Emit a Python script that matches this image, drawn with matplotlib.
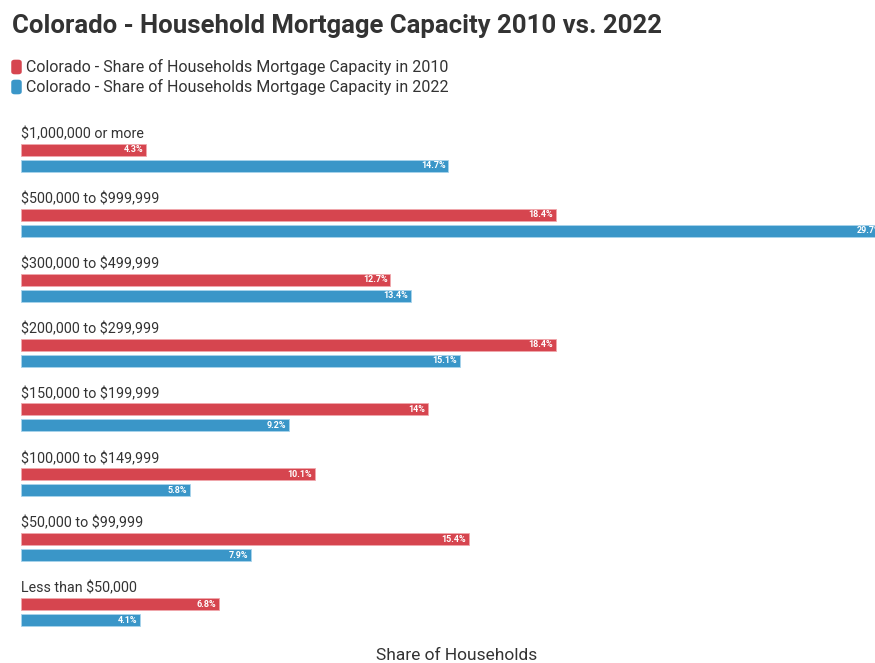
import numpy as np
import matplotlib.pyplot as plt
from matplotlib.patches import FancyBboxPatch

categories = ["$1,000,000 or more", "$500,000 to $999,999", "$300,000 to $499,999",
              "$200,000 to $299,999", "$150,000 to $199,999", "$100,000 to $149,999",
              "$50,000 to $99,999", "Less than $50,000"]
share_2010 = [4.3, 18.4, 12.7, 18.4, 14.0, 10.1, 15.4, 6.8]
share_2022 = [14.7, 29.7, 13.4, 15.1, 9.2, 5.8, 7.9, 4.1]
labels_2010 = ["4.3%", "18.4%", "12.7%", "18.4%", "14%", "10.1%", "15.4%", "6.8%"]
labels_2022 = ["14.7%", "29.7%", "13.4%", "15.1%", "9.2%", "5.8%", "7.9%", "4.1%"]

red = "#d6454f"
blue = "#3a96c8"
text_col = "#333333"

plt.rcParams["font.family"] = ["Roboto", "DejaVu Sans"]
plt.rcParams["text.parse_math"] = False

W, H = 875, 663
fig = plt.figure(figsize=(W / 100, H / 100), dpi=100, facecolor="white")
ax = fig.add_axes([21 / W, 18.5 / H, 1 - 21 / W, 0.7828])

y = np.arange(len(categories))
off = 0.123
bh = 0.185
ax.barh(y - off, share_2010, height=bh, color=red, edgecolor="#f0a8ad", linewidth=0.6)
ax.barh(y + off, share_2022, height=bh, color=blue, edgecolor="#a8d4ec", linewidth=0.6)

for i in range(len(categories)):
    ax.text(0, y[i] - off - 0.13, categories[i], ha="left", va="bottom",
            fontsize=10.3, color=text_col)
    ax.text(share_2010[i] - 0.1, y[i] - off, labels_2010[i], ha="right", va="center",
            fontsize=6.5, color="white", weight="bold", clip_on=True)
    ax.text(share_2022[i] - 0.1, y[i] + off, labels_2022[i], ha="right", va="center",
            fontsize=6.5, color="white", weight="bold", clip_on=True)

ax.set_xlim(0, (W - 21) / 29.08)
ax.set_ylim(7.5, -0.5)
ax.axis("off")

fig.text(12 / W, 1 - 26 / H, "Colorado - Household Mortgage Capacity 2010 vs. 2022",
         ha="left", va="center", fontsize=18.5, weight="bold", color=text_col)

legend_items = [("Colorado - Share of Households Mortgage Capacity in 2010", red, 67),
                ("Colorado - Share of Households Mortgage Capacity in 2022", blue, 87)]
for txt, col, ypx in legend_items:
    fig.patches.append(FancyBboxPatch((13 / W, 1 - (ypx + 6) / H), 7 / W, 12 / H,
                                      boxstyle="round,pad=0.002,rounding_size=0.004",
                                      transform=fig.transFigure, facecolor=col,
                                      edgecolor="none"))
    fig.text(26 / W, 1 - ypx / H, txt, ha="left", va="center", fontsize=11.5,
             color=text_col)

fig.text(457 / W, 1 - 656 / H, "Share of Households", ha="center", va="center",
         fontsize=12.5, color=text_col)

fig.savefig("out.png", dpi=100, facecolor="white")
